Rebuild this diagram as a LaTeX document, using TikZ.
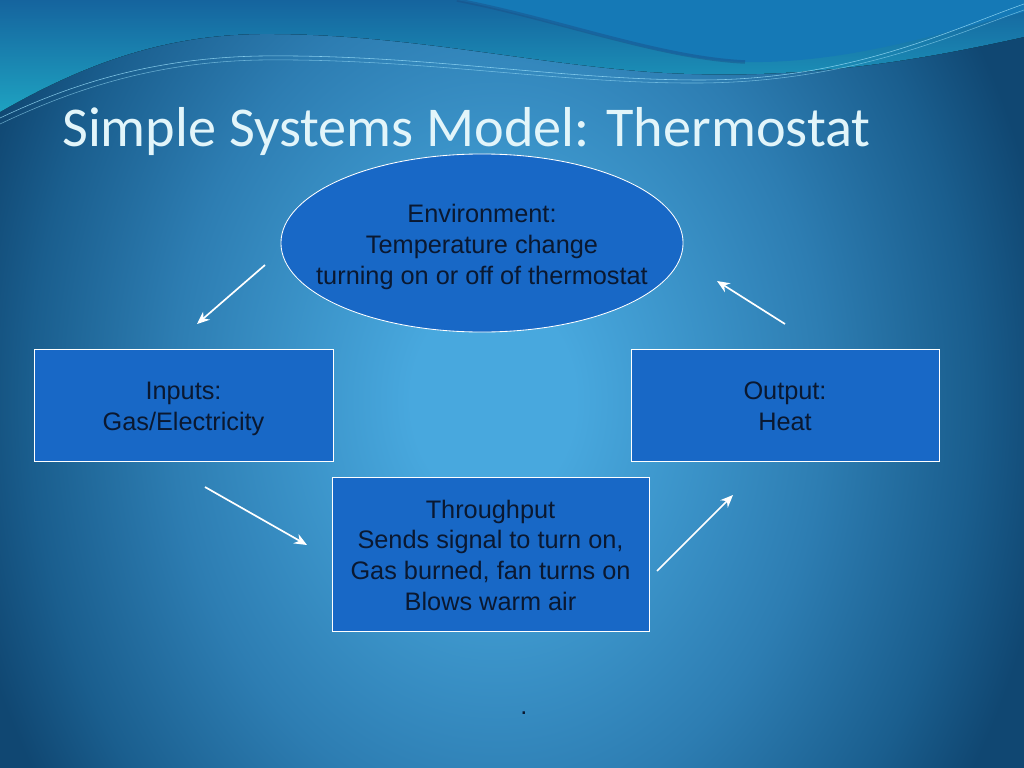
\documentclass[tikz,border=0pt]{standalone}
\usepackage{fontspec}
\setmainfont{Liberation Sans}
\newfontfamily\titlefont{Carlito}
\usetikzlibrary{positioning,shapes.geometric,arrows.meta}

\definecolor{bgin}{HTML}{48A8DE}
\definecolor{bgmid}{HTML}{2D7DB2}
\definecolor{bgfar}{HTML}{1A5E8E}
\definecolor{bgout}{HTML}{104772}
\definecolor{wavetop}{HTML}{15649E}
\definecolor{wavebot}{HTML}{1EA2C1}
\definecolor{tongue}{HTML}{1579B6}
\definecolor{tongueedge}{HTML}{1B4E86}
\definecolor{boxblue}{HTML}{1868C6}
\definecolor{inkdark}{HTML}{0A1830}
\definecolor{titlecol}{HTML}{E2F5FA}
\pgfdeclareradialshading{bgshade}{\pgfpoint{-1bp}{0bp}}{color(0bp)=(bgin); color(4bp)=(bgin); color(16bp)=(bgmid); color(23bp)=(bgfar); color(27bp)=(bgout); color(50bp)=(bgout)}
\newcommand{\tstrut}{\rule{0pt}{18.8pt}}
\newcommand{\bstrut}{\rule[-4pt]{0pt}{0pt}}

\begin{document}
\begin{tikzpicture}
	[x=0.025cm, y=-0.025cm, >={Stealth[length=9pt,width=7.5pt]}, font=\fontsize{18}{22}\selectfont,
	partbox/.style={draw=white, line width=0.6pt, fill=boxblue, text=inkdark, align=center, minimum height=2.8cm, inner sep=0pt},
	envshape/.style={ellipse, draw=white, line width=0.6pt, fill=boxblue, text=inkdark, align=center, minimum width=10.05cm, minimum height=4.45cm, inner xsep=-0.62cm, inner ysep=0pt},
	flow/.style={->, white, line width=1.2pt}]
\useasboundingbox (0,0) rectangle (1024,768);
% background and wave
\begin{scope}
\clip (0,0) rectangle (1024,768);
\fill[shading=bgshade] (0,-250) rectangle (1024,1050);
\fill[top color=wavetop, bottom color=wavebot] (0,0) -- (0,112) .. controls (90,60) and (170,35) .. (260,34) .. controls (400,33) and (520,62) .. (650,72) .. controls (800,82) and (920,60) .. (1024,37) -- (1024,0) -- cycle;
\fill[tongue] (457,0) .. controls (560,20) and (660,60) .. (745,62) .. controls (850,64) and (950,30) .. (1024,12) -- (1024,0) -- cycle;
\draw[tongueedge, line width=2.5pt, opacity=0.45] (457,0) .. controls (560,20) and (660,58) .. (745,62);
\draw[white!60!cyan, line width=0.4pt, opacity=0.8] (0,118) .. controls (80,80) and (160,58) .. (260,56) .. controls (420,54) and (560,80) .. (700,80) .. controls (850,80) and (950,30) .. (1024,4);
\draw[white!60!cyan, line width=0.4pt, opacity=0.6] (0,124) .. controls (80,86) and (160,62) .. (260,60) .. controls (420,58) and (560,84) .. (700,83) .. controls (850,82) and (950,36) .. (1024,10);
\end{scope}

\node[anchor=base west, font=\titlefont\fontsize{40}{48}\selectfont, text=titlecol, inner sep=0pt] (title) at (62,147) {Simple Systems Model: Thermostat};

\node[envshape] (env) at (482,243) {\tstrut Environment:\\Temperature change\\turning on or off of thermostat\bstrut};
\node[partbox, minimum width=7.475cm] (inputs) at (183.5,405) {\tstrut Inputs:\\Gas/Electricity\bstrut};
\node[partbox, minimum width=7.7cm] (output) at (785,405) {\tstrut Output:\\Heat\bstrut};
\node[partbox, minimum width=7.925cm, minimum height=3.85cm] (thru) at (490.5,554) {\tstrut Throughput\\Sends signal to turn on,\\Gas burned, fan turns on\\Blows warm air\bstrut};
\node[text=inkdark, inner sep=0pt] (dot) at (524,713) {.};

\coordinate (envL) at (265,265);
\coordinate (inT) at (197,324);
\coordinate (inB) at (205,487);
\coordinate (thL) at (307,545);
\coordinate (thR) at (657,571);
\coordinate (outB) at (733,495);
\coordinate (outT) at (785,324);
\coordinate (envR) at (717,281);

\path[flow]
	(envL) edge (inT)
	(inB)  edge (thL)
	(thR)  edge (outB)
	(outT) edge (envR);

\end{tikzpicture}
\end{document}
